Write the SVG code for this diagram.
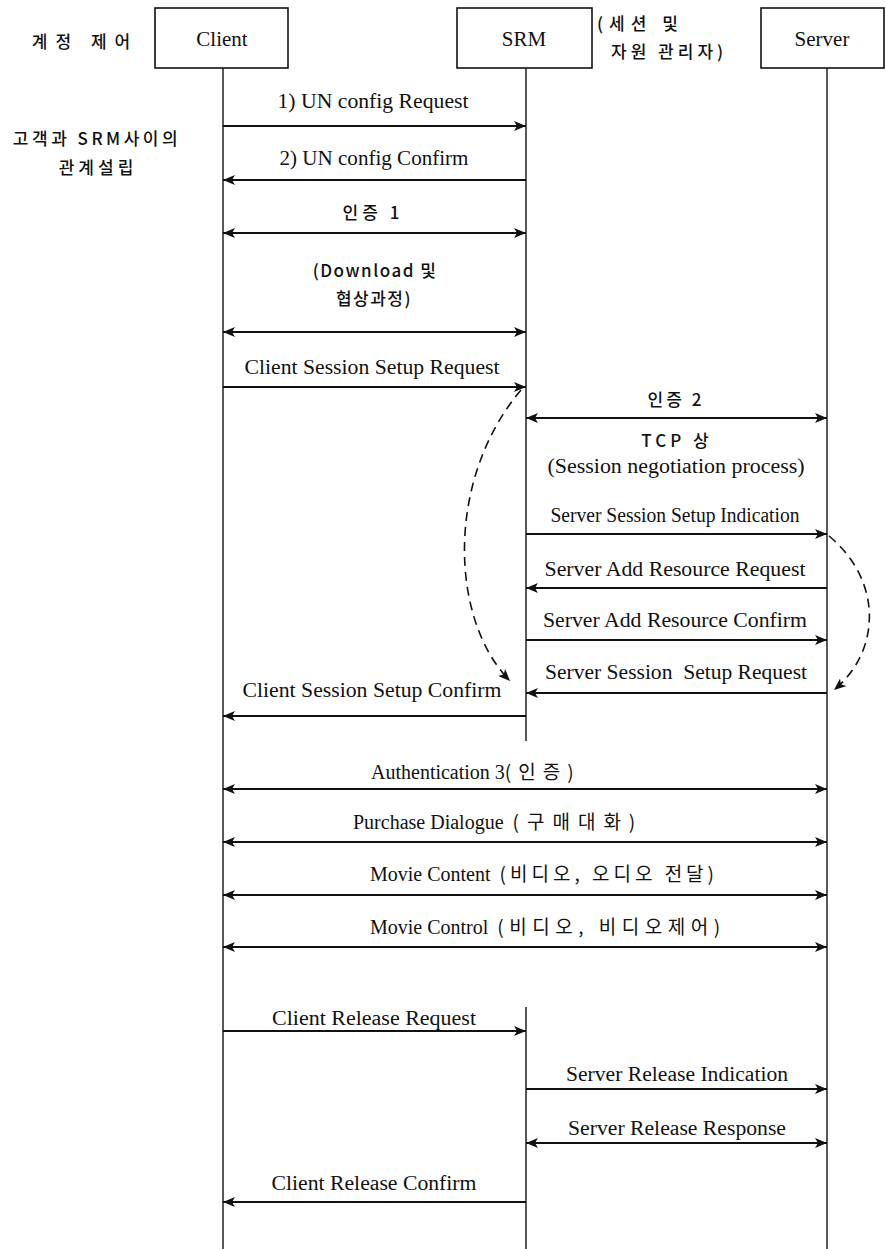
<svg xmlns="http://www.w3.org/2000/svg" width="886" height="1249" viewBox="0 0 886 1249">
  <style>
    .box { fill: #fff; stroke: #111; stroke-width: 1.6; }
    .life { stroke: #222; stroke-width: 1.5; fill: none; }
    .msg { stroke: #111; stroke-width: 2; fill: none; }
    .dash { stroke: #111; stroke-width: 1.6; fill: none; stroke-dasharray: 9 6; }
    .t { font-family: "Liberation Serif", "Noto Sans CJK KR", serif; font-size: 20px; fill: #111; text-anchor: middle; }
    .title { font-size: 21px; }
    .k { font-family: "Noto Sans CJK KR", "Liberation Serif", sans-serif; font-size: 17px; fill: #111; font-weight: 500; text-anchor: middle; }
    .kk { font-family: "Noto Sans CJK KR", sans-serif; font-size: 19px; font-weight: 400; }
    .s { text-anchor: start; }
  </style>
  <defs>
    <marker id="ah" viewBox="0 0 12 10" refX="12" refY="5" markerWidth="12" markerHeight="10" markerUnits="userSpaceOnUse" orient="auto-start-reverse">
      <path d="M0,0 L12,5 L0,10 L3,5 Z" fill="#111"/>
    </marker>
  </defs>

  <!-- side notes -->
  <g id="notes">
    <text class="k" x="85" y="48" font-size="18" letter-spacing="8">계정 제어</text>
    <text class="k" x="97" y="145" font-size="18" letter-spacing="3.5">고객과 SRM사이의</text>
    <text class="k" x="98" y="174" font-size="18" letter-spacing="4">관계설립</text>
    <text class="k s" x="597" y="30" font-size="18" letter-spacing="6">(세션 및</text>
    <text class="k s" x="611" y="58" font-size="18" letter-spacing="4">자원 관리자)</text>
  </g>

  <!-- participants -->
  <g id="client">
    <rect class="box" x="155" y="8" width="133" height="60"/>
    <text class="t title" x="222" y="46">Client</text>
    <line class="life" x1="223" y1="68" x2="223" y2="1249"/>
  </g>
  <g id="srm">
    <rect class="box" x="457" y="8" width="135" height="60"/>
    <text class="t title" x="524" y="46">SRM</text>
    <line class="life" x1="526" y1="68" x2="526" y2="741"/>
    <line class="life" x1="526" y1="1007" x2="526" y2="1249"/>
  </g>
  <g id="server">
    <rect class="box" x="761" y="8" width="123" height="60"/>
    <text class="t title" x="822" y="46">Server</text>
    <line class="life" x1="827" y1="68" x2="827" y2="1249"/>
  </g>

  <!-- messages -->
  <g id="connectors">
    <line class="msg" x1="223" y1="126" x2="526" y2="126" marker-end="url(#ah)"/>
    <line class="msg" x1="526" y1="180" x2="223" y2="180" marker-end="url(#ah)"/>
    <line class="msg" x1="223" y1="233" x2="526" y2="233" marker-start="url(#ah)" marker-end="url(#ah)"/>
    <line class="msg" x1="223" y1="332" x2="526" y2="332" marker-start="url(#ah)" marker-end="url(#ah)"/>
    <line class="msg" x1="223" y1="387" x2="526" y2="387" marker-end="url(#ah)"/>
    <line class="msg" x1="526" y1="418" x2="827" y2="418" marker-start="url(#ah)" marker-end="url(#ah)"/>
    <line class="msg" x1="526" y1="534" x2="827" y2="534" marker-end="url(#ah)"/>
    <line class="msg" x1="827" y1="588" x2="526" y2="588" marker-end="url(#ah)"/>
    <line class="msg" x1="526" y1="640" x2="827" y2="640" marker-end="url(#ah)"/>
    <line class="msg" x1="827" y1="693" x2="526" y2="693" marker-end="url(#ah)"/>
    <line class="msg" x1="526" y1="716" x2="223" y2="716" marker-end="url(#ah)"/>
    <path class="dash" d="M521,390 C445,480 450,620 510,681" marker-end="url(#ah)"/>
    <path class="dash" d="M829,536 C882,580 882,650 834,690" marker-end="url(#ah)"/>
    <line class="msg" x1="223" y1="789" x2="827" y2="789" marker-start="url(#ah)" marker-end="url(#ah)"/>
    <line class="msg" x1="223" y1="842" x2="827" y2="842" marker-start="url(#ah)" marker-end="url(#ah)"/>
    <line class="msg" x1="223" y1="895" x2="827" y2="895" marker-start="url(#ah)" marker-end="url(#ah)"/>
    <line class="msg" x1="223" y1="947" x2="827" y2="947" marker-start="url(#ah)" marker-end="url(#ah)"/>
    <line class="msg" x1="223" y1="1031" x2="526" y2="1031" marker-end="url(#ah)"/>
    <line class="msg" x1="526" y1="1089" x2="827" y2="1089" marker-end="url(#ah)"/>
    <line class="msg" x1="526" y1="1143" x2="827" y2="1143" marker-start="url(#ah)" marker-end="url(#ah)"/>
    <line class="msg" x1="526" y1="1202" x2="223" y2="1202" marker-end="url(#ah)"/>
  </g>

  <!-- message labels -->
  <g id="labels">
    <text class="t" x="373" y="108" textLength="191" lengthAdjust="spacingAndGlyphs">1) UN config Request</text>
    <text class="t" x="374" y="165" textLength="189" lengthAdjust="spacingAndGlyphs">2) UN config Confirm</text>
    <text class="k" x="373" y="219" letter-spacing="4">인증 1</text>
    <text class="k" x="375" y="277" letter-spacing="1.5">(Download 및</text>
    <text class="k" x="374" y="305" letter-spacing="1.5">협상과정)</text>
    <text class="t" x="372" y="374" textLength="255" lengthAdjust="spacingAndGlyphs">Client Session Setup Request</text>
    <text class="k" x="676" y="406" letter-spacing="3">인증 2</text>
    <text class="k" x="677" y="447" letter-spacing="4">TCP 상</text>
    <text class="t" x="676" y="473" textLength="257" lengthAdjust="spacingAndGlyphs">(Session negotiation process)</text>
    <text class="t" x="675" y="522" textLength="249" lengthAdjust="spacingAndGlyphs">Server Session Setup Indication</text>
    <text class="t" x="675" y="576" textLength="261" lengthAdjust="spacingAndGlyphs">Server Add Resource Request</text>
    <text class="t" x="675" y="627" textLength="264" lengthAdjust="spacingAndGlyphs">Server Add Resource Confirm</text>
    <text class="t" x="676" y="679" textLength="262" lengthAdjust="spacingAndGlyphs" xml:space="preserve">Server Session  Setup Request</text>
    <text class="t" x="372" y="697" textLength="259" lengthAdjust="spacingAndGlyphs">Client Session Setup Confirm</text>
    <text class="t s" x="371" y="779">Authentication 3<tspan class="kk" letter-spacing="7">(인증)</tspan></text>
    <text class="t s" x="353" y="829">Purchase Dialogue <tspan class="kk" dx="4" letter-spacing="8">(구매대화)</tspan></text>
    <text class="t s" x="370" y="881">Movie Content <tspan class="kk" dx="4" letter-spacing="4">(비디오, 오디오 전달)</tspan></text>
    <text class="t s" x="370" y="934">Movie Control <tspan class="kk" dx="4" letter-spacing="5.5">(비디오, 비디오제어)</tspan></text>
    <text class="t" x="374" y="1025" textLength="204" lengthAdjust="spacingAndGlyphs">Client Release Request</text>
    <text class="t" x="677" y="1081" textLength="222" lengthAdjust="spacingAndGlyphs">Server Release Indication</text>
    <text class="t" x="677" y="1135" textLength="218" lengthAdjust="spacingAndGlyphs">Server Release Response</text>
    <text class="t" x="374" y="1190" textLength="205" lengthAdjust="spacingAndGlyphs">Client Release Confirm</text>
  </g>
</svg>
